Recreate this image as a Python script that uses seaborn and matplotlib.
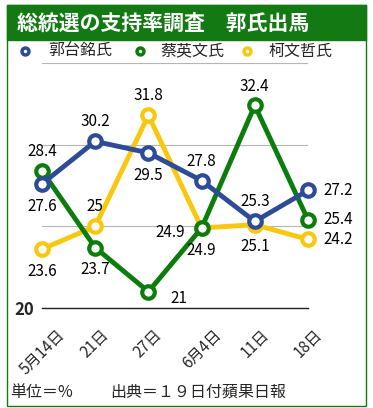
import matplotlib
matplotlib.use("Agg")
import matplotlib.pyplot as plt
import seaborn as sns
import pandas as pd
from matplotlib.lines import Line2D
from matplotlib.patches import Rectangle

# poll values
dates = ["5月14日", "21日", "27日", "6月4日", "11日", "18日"]
kuo = [27.6, 30.2, 29.5, 27.8, 25.3, 27.2]
tsai = [28.4, 23.7, 21.0, 24.9, 32.4, 25.4]
ko = [23.6, 25.0, 31.8, 24.9, 25.1, 24.2]
names = ["郭台銘氏", "蔡英文氏", "柯文哲氏"]

colors = ["#2d4b96", "#0c7c0c", "#f9c80e"]
frame_green = "#137a13"

# where each value label goes relative to its point
label_pos = [
    ["below", "above", "below", "above", "above", "right"],
    ["above", "below", "right_low", "below", "above", "right"],
    ["below", "above", "above", "left", "below", "right"],
]
offsets = {
    "above": ((0, 14), "center"),
    "below": ((0, -16), "center"),
    "right": ((11, 0), "left"),
    "right_low": ((16, -5), "left"),
    "left": ((-12, -3), "right"),
}

df = pd.DataFrame({
    "x": list(range(len(dates))) * 3,
    "value": kuo + tsai + ko,
    "name": [n for n in names for _ in dates],
})

sns.set_style("white")
plt.rcParams["font.family"] = ["Noto Sans CJK JP", "DejaVu Sans"]

W, H = 373, 408
fig = plt.figure(figsize=(W / 100, H / 100), dpi=100)
ax = fig.add_axes([42 / W, 1 - 308 / H, 266 / W, 245 / H])

# yellow first, blue last so blue sits on top
for i in reversed(range(3)):
    sub = df[df["name"] == names[i]]
    sns.lineplot(data=sub, x="x", y="value", ax=ax, color=colors[i], lw=3.5,
                 marker="o", ms=9, mfc="white", mec=colors[i], mew=3,
                 legend=False, clip_on=False)
    for x, v, p in zip(sub["x"], sub["value"], label_pos[i]):
        off, ha = offsets[p]
        ax.annotate(f"{v:g}", (x, v), xytext=off, textcoords="offset points",
                    ha=ha, va="center", fontsize=11, color="black",
                    annotation_clip=False, zorder=10)

ax.set_xlim(0, len(dates) - 1)
ax.set_ylim(20, 35)
ax.set_yticks([20, 25, 30, 35])
ax.set_yticklabels(["20", "", "", ""], fontsize=12, fontweight="bold")
ax.set_xticks(range(len(dates)))
ax.set_xticklabels(dates, fontsize=11)
ax.tick_params(length=0)
ax.tick_params(axis="x", pad=13)
ax.tick_params(axis="y", pad=6)
plt.setp(ax.get_xticklabels(), rotation=45, ha="center", va="top")
ax.grid(axis="y", color="#b5b5b5", lw=0.8)
ax.grid(axis="x", visible=False)
for s in ["top", "left", "right"]:
    ax.spines[s].set_visible(False)
ax.spines["bottom"].set_color("#222222")
ax.spines["bottom"].set_linewidth(1)
ax.set_xlabel("")
ax.set_ylabel("")

# frame and title bar
fig.add_artist(Rectangle((7 / W, 1 - 406 / H), 359 / W, 401 / H, fill=False,
                         ec=frame_green, lw=1, transform=fig.transFigure))
fig.add_artist(Rectangle((7 / W, 1 - 40 / H), 359 / W, 35 / H, color=frame_green,
                         transform=fig.transFigure))
fig.text(17 / W, 1 - 23 / H, "総統選の支持率調査　郭氏出馬", color="white",
         fontsize=15, fontweight="bold", va="center")

# legend row
for mx, tx, c, n in zip([25, 140, 247], [48, 160, 268], colors, names):
    fig.add_artist(Line2D([mx / W], [1 - 51 / H], marker="o", ms=5, mew=2.5,
                          mfc="white", mec=c, ls="", transform=fig.transFigure))
    fig.text(tx / W, 1 - 51 / H, n, fontsize=11.5, va="center")

fig.text(10 / W, 1 - 392 / H, "単位＝%", fontsize=11.5, va="center")
fig.text(110 / W, 1 - 392 / H, "出典＝１９日付蘋果日報", fontsize=11.5, va="center")

fig.savefig("out.png", dpi=100)
